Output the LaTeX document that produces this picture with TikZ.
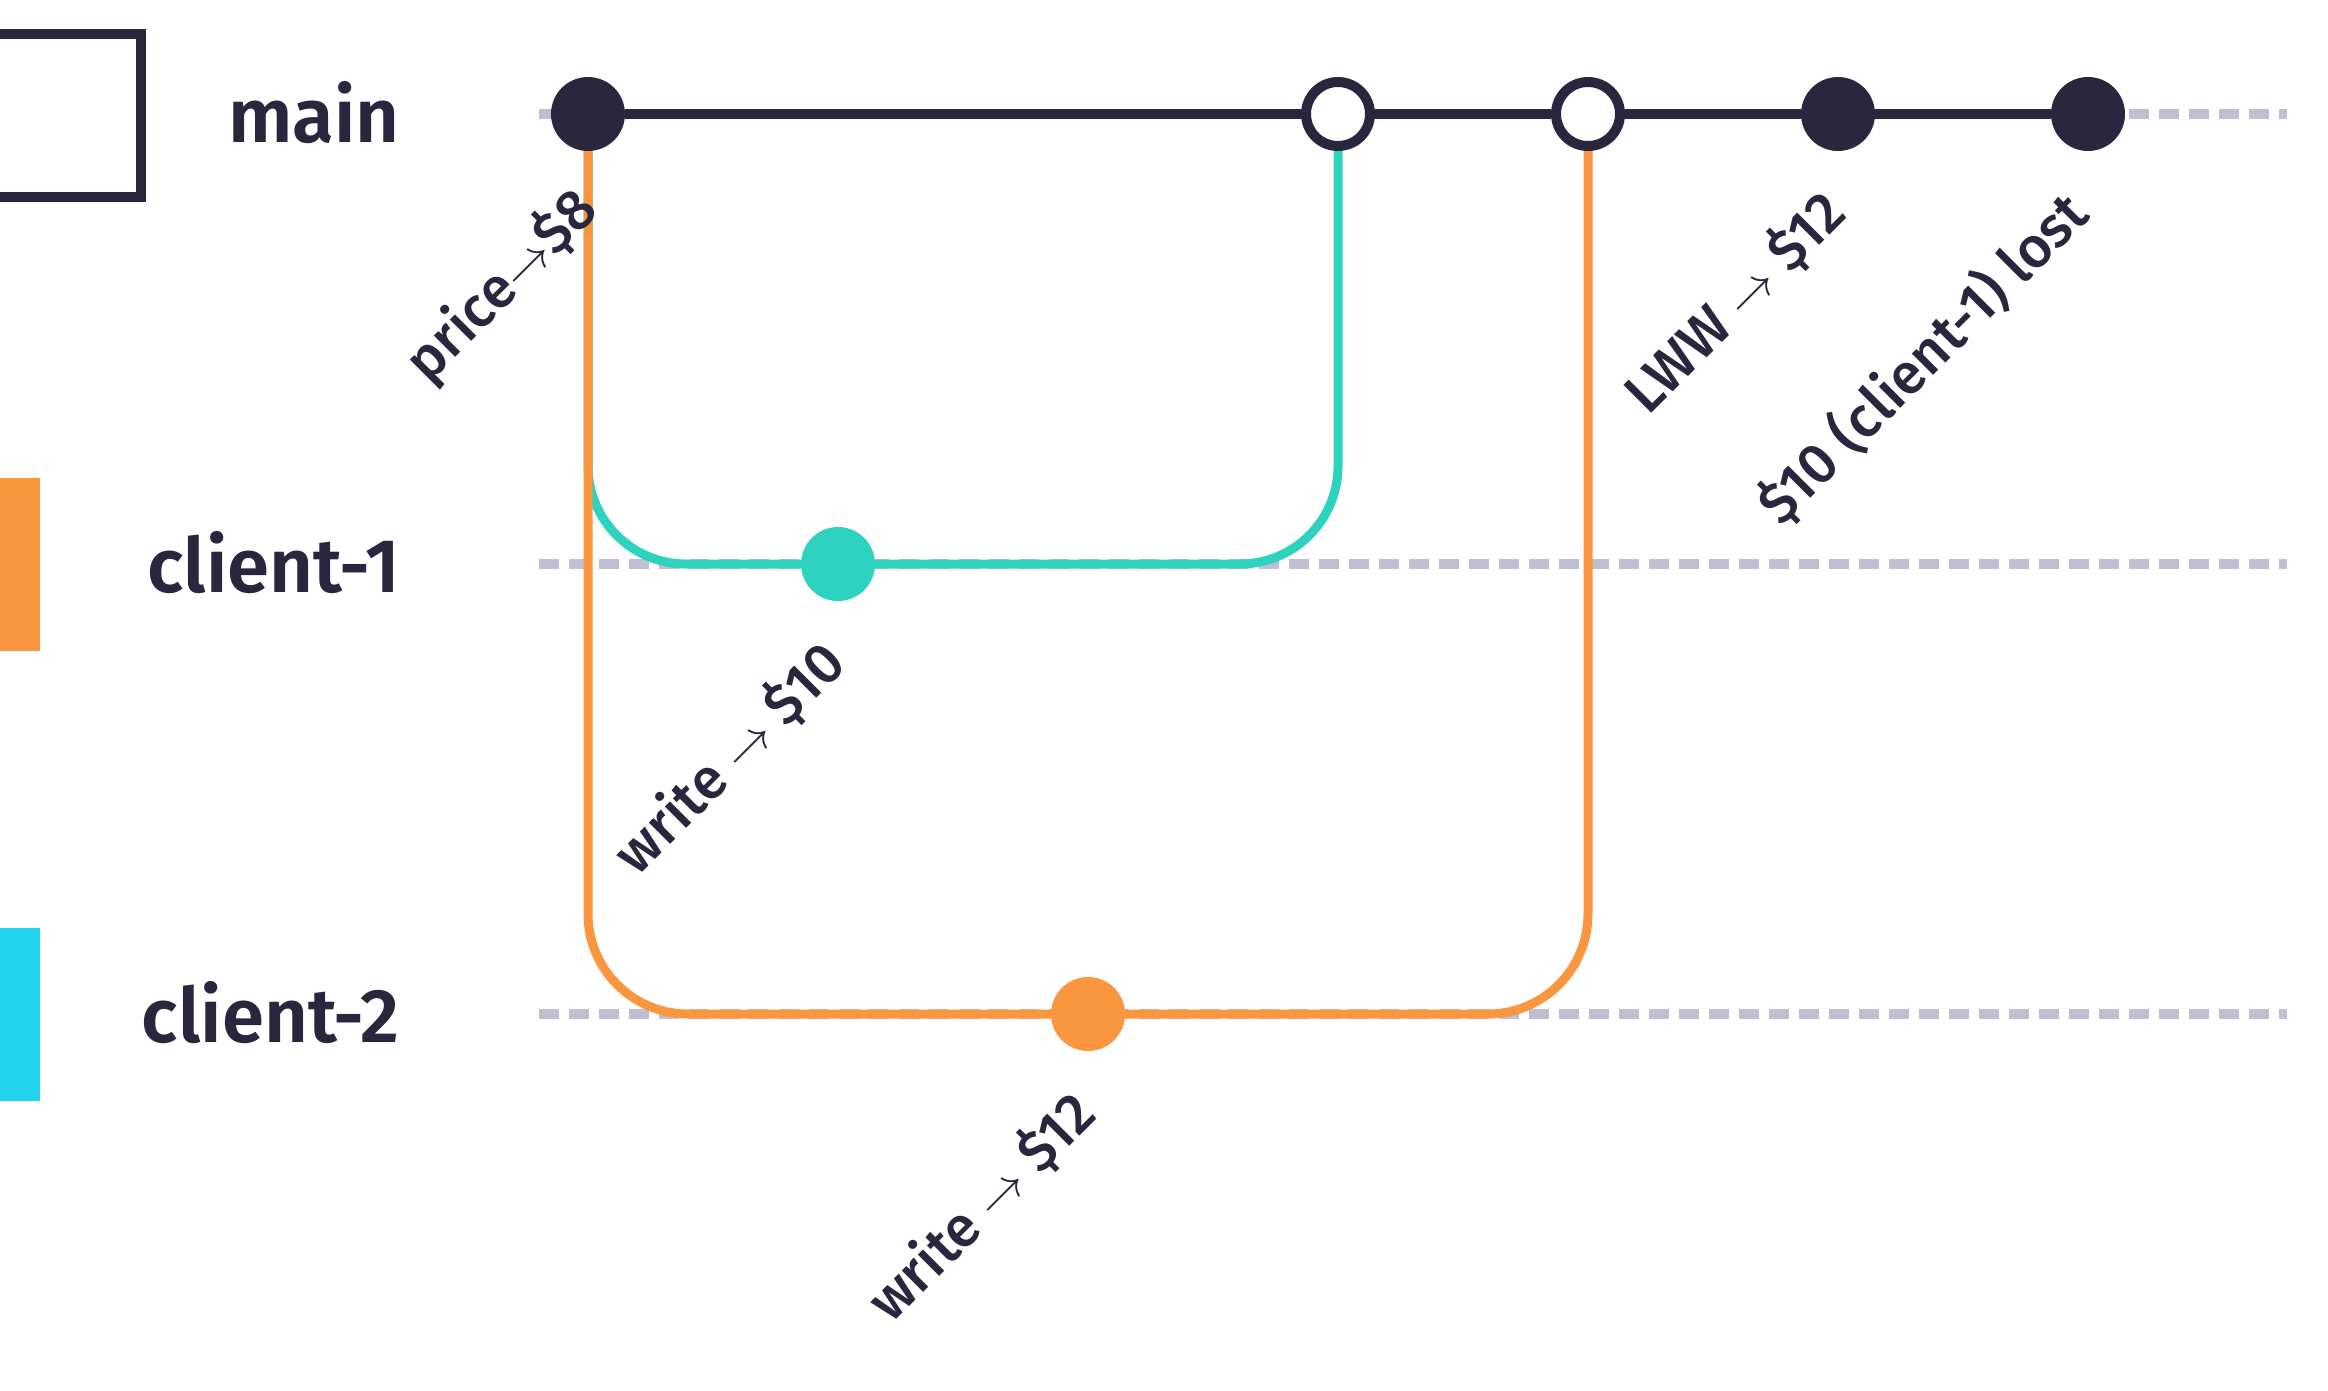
\RequirePackage{fix-cm}
\documentclass[tikz,border=0pt]{standalone}
\usepackage{fontspec}
\setmainfont{Fira Sans}[UprightFont=* Medium, BoldFont=* SemiBold]
\usetikzlibrary{backgrounds}

\definecolor{ink}{RGB}{41,38,61}
\definecolor{amber}{RGB}{251,150,64}
\definecolor{mint}{RGB}{46,211,191}
\definecolor{sky}{RGB}{34,211,238}
\definecolor{lanegray}{RGB}{192,191,209}

\newcommand{\toarrow}{{\fontsize{50}{60}\selectfont$\rightarrow$}}

\begin{document}
\begin{tikzpicture}[x=1pt,y=1pt,
	commit/.style={circle,inner sep=0pt,minimum size=74pt,fill=#1},
	commit/.default=ink,
	open commit/.style={circle,inner sep=0pt,minimum size=64pt,draw=ink,line width=10pt,fill=white},
	lane line/.style={lanegray,line width=10pt,dash pattern=on 20pt off 10pt},
	branch/.style={line width=9pt,rounded corners=#1},
	row label/.style={anchor=base east,inner sep=0pt,text=ink,font=\bfseries\fontsize{76}{90}\selectfont},
	note/.style={anchor=east,rotate=45,inner sep=0pt,text=ink,font=\fontsize{57}{68}\selectfont}
]

	\def \xo {588};
	\def \dx {250};
	\def \gap {450};

	\useasboundingbox (0,114) rectangle (2328,-1276);
	\clip (0,114) rectangle (2328,-1276);

	% legend marks
	\draw[ink,line width=10pt] (-22,80) rectangle (141,-83);
	\fill[amber] (-20,-364) rectangle (40,-537);
	\fill[sky] (-20,-814) rectangle (40,-987);

	% commits
	\node[commit] (init) at (\xo,0) {};
	\node[open commit] (mrg1) at (\xo+3*\dx,0) {};
	\node[open commit] (mrg2) at (\xo+4*\dx,0) {};
	\node[commit] (lww) at (\xo+5*\dx,0) {};
	\node[commit] (lost) at (\xo+6*\dx,0) {};
	\node[commit=mint] (w1) at (\xo+\dx,-\gap) {};
	\node[commit=amber] (w2) at (\xo+2*\dx,-2*\gap) {};

	\begin{scope}[on background layer]
		% lanes
		\foreach \i/\id/\txt in {0/main/main,1/one/client-1,2/two/client-2} {
			\draw[lane line] (539,-\i*\gap) -- (2287,-\i*\gap);
			\node[row label] (\id) at (400,-\i*\gap-28) {\txt};
		}
		\draw[branch=98pt,mint] (init) |- (w1) -| (mrg1);
		\draw[branch=100pt,amber] (init) |- (w2) -| (mrg2);
	\end{scope}
	\draw[ink,line width=10pt] (init) -- (mrg1) -- (mrg2) -- (lww) -- (lost);

	% notes
	\node[note] (n1) at ([xshift=0pt,yshift=-86pt]init) {price\toarrow\$8};
	\node[note] (n2) at ([xshift=-3pt,yshift=-89pt]w1) {write \toarrow{} \$10};
	\node[note] (n3) at ([xshift=-2pt,yshift=-89pt]w2) {write \toarrow{} \$12};
	\node[note] (n4) at ([xshift=-2pt,yshift=-88pt]lww) {LWW \toarrow{} \$12};
	\node[note] (n5) at ([xshift=-10pt,yshift=-89pt]lost) {\$10 (client-1) lost};
\end{tikzpicture}
\end{document}
